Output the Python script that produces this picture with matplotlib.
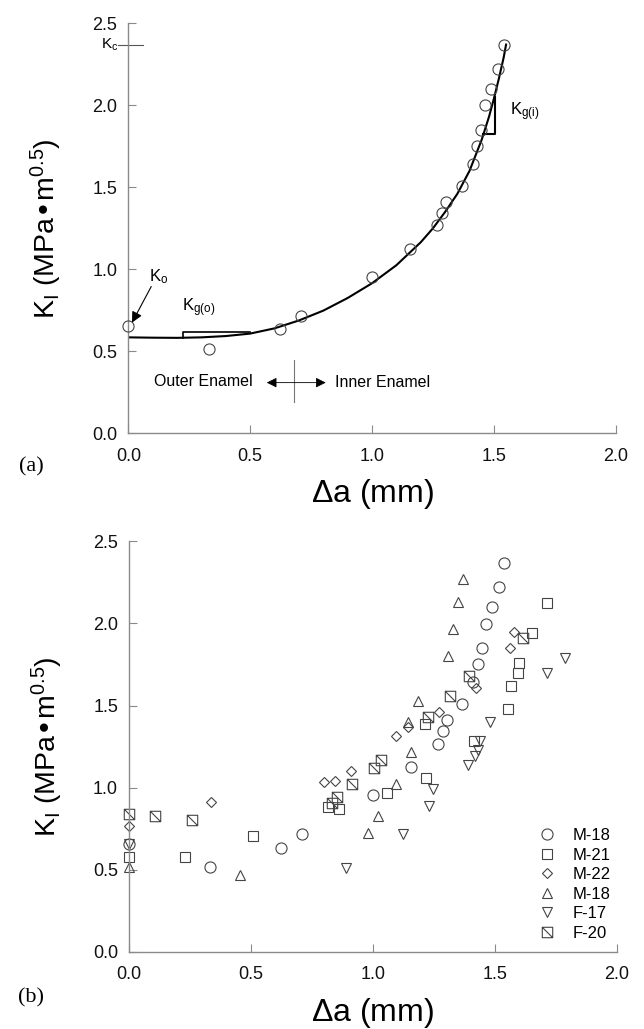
import numpy as np
import matplotlib
matplotlib.use('Agg')
from matplotlib import pyplot as plt
from matplotlib.path import Path

plt.rcParams['font.family'] = ['Liberation Sans', 'DejaVu Sans']
plt.rcParams['mathtext.default'] = 'regular'

# ---- data ----
# specimen M-18 (circles), also the data set of panel (a)
m18_x = [0.0, 0.332, 0.624, 0.708, 1.0, 1.155, 1.268, 1.286, 1.304, 1.368, 1.413,
         1.431, 1.449, 1.465, 1.488, 1.518, 1.540]
m18_y = [0.655, 0.514, 0.634, 0.715, 0.953, 1.125, 1.268, 1.343, 1.41, 1.51, 1.642,
         1.752, 1.85, 1.999, 2.098, 2.219, 2.366]

# fitted R-curve in panel (a)
fit_x = [0.0, 0.10, 0.20, 0.30, 0.40, 0.50, 0.60, 0.70, 0.80, 0.90, 1.00, 1.10,
         1.15, 1.20, 1.25, 1.30, 1.35, 1.40, 1.45, 1.48, 1.50, 1.52, 1.54, 1.55]
fit_y = [0.585, 0.583, 0.582, 0.585, 0.593, 0.608, 0.640, 0.688, 0.748, 0.825,
         0.915, 1.025, 1.095, 1.165, 1.25, 1.35, 1.46, 1.60, 1.79, 1.93, 2.04,
         2.16, 2.29, 2.37]

m21_x = [0.0, 0.23, 0.51, 0.815, 0.862, 1.06, 1.22, 1.215, 1.415, 1.555, 1.567,
         1.595, 1.60, 1.655, 1.715]
m21_y = [0.575, 0.58, 0.705, 0.88, 0.87, 0.966, 1.06, 1.385, 1.285, 1.48, 1.62,
         1.695, 1.758, 1.942, 2.125]

m22_x = [0.0, 0.337, 0.80, 0.843, 0.91, 1.094, 1.146, 1.273, 1.424, 1.564, 1.58]
m22_y = [0.765, 0.915, 1.035, 1.043, 1.104, 1.312, 1.369, 1.46, 1.609, 1.853, 1.948]

m18b_x = [0.0, 0.455, 0.982, 1.022, 1.096, 1.158, 1.143, 1.186, 1.308, 1.329,
          1.348, 1.37]
m18b_y = [0.517, 0.469, 0.724, 0.826, 1.024, 1.219, 1.40, 1.527, 1.80, 1.965,
          2.133, 2.27]

f17_x = [0.0, 0.89, 1.122, 1.23, 1.248, 1.39, 1.42, 1.432, 1.44, 1.48, 1.716, 1.788]
f17_y = [0.658, 0.511, 0.715, 0.885, 0.99, 1.137, 1.192, 1.226, 1.281, 1.398,
         1.70, 1.79]

f20_x = [0.0, 0.106, 0.257, 0.832, 0.852, 0.914, 1.006, 1.035, 1.228, 1.317,
         1.393, 1.617]
f20_y = [0.836, 0.824, 0.805, 0.909, 0.941, 1.023, 1.118, 1.171, 1.43, 1.556,
         1.68, 1.912]

series_labels = ['M-18', 'M-21', 'M-22', 'M-18', 'F-17', 'F-20']

Kc = 2.37

# square with a diagonal (F-20)
box_diag = Path([(-1, -1), (1, -1), (1, 1), (-1, 1), (-1, -1), (-1, 1), (1, -1)],
                [Path.MOVETO, Path.LINETO, Path.LINETO, Path.LINETO, Path.CLOSEPOLY,
                 Path.MOVETO, Path.LINETO])

spine_col = '#8a8a8a'
edge_col = '#444444'


def style_axes(ax):
    ax.set_xlim(0, 2.0)
    ax.set_ylim(0, 2.5)
    ax.set_xticks([0.0, 0.5, 1.0, 1.5, 2.0])
    ax.set_yticks([0.0, 0.5, 1.0, 1.5, 2.0, 2.5])
    ax.xaxis.set_major_formatter(matplotlib.ticker.FormatStrFormatter('%.1f'))
    ax.yaxis.set_major_formatter(matplotlib.ticker.FormatStrFormatter('%.1f'))
    for s in ['top', 'right']:
        ax.spines[s].set_visible(False)
    for s in ['left', 'bottom']:
        ax.spines[s].set_color(spine_col)
        ax.spines[s].set_linewidth(1.0)
    ax.tick_params(direction='in', length=6, width=0.8, color=spine_col,
                   labelsize=13, labelcolor='#111111')
    ax.tick_params(axis='x', pad=10.5)
    ax.tick_params(axis='y', pad=8)
    ax.set_xlabel(r'$\Delta$a (mm)', fontsize=23)
    ax.xaxis.set_label_coords(0.5, -0.107)
    ax.set_ylabel('$K_{I}$ (MPa\u2022m$^{0.5}$)', fontsize=20.5)
    ax.yaxis.set_label_coords(-0.132, 0.5)


fig = plt.figure(figsize=(6.44, 10.29), dpi=100, facecolor='w')
ax1 = fig.add_axes([0.1993, 0.5789, 0.7568, 0.3985])
ax2 = fig.add_axes([0.2005, 0.0751, 0.7568, 0.3988])

# ---- panel (a) ----
style_axes(ax1)
ax1.plot(fit_x, fit_y, color='black', lw=1.5, zorder=2)
ax1.plot(m18_x, m18_y, 'o', ms=8, mfc='none', mec=edge_col, mew=0.8, zorder=3,
         clip_on=False)

# K_c marker on the axis
ax1.plot([-0.042, 0.059], [Kc, Kc], color='#555555', lw=0.8, clip_on=False)
ax1.text(-0.075, Kc, '$K_{c}$', fontsize=11, ha='center', va='center')

# K_o arrow
ax1.annotate('', xy=(0.015, 0.675), xytext=(0.094, 0.895),
             arrowprops=dict(arrowstyle='-|>', color='black', lw=0.8,
                             mutation_scale=16, shrinkA=0, shrinkB=0))
ax1.text(0.085, 0.955, '$K_{o}$', fontsize=12, ha='left', va='center')

# slope K_g(o)
ax1.plot([0.223, 0.223, 0.50], [0.583, 0.617, 0.617], color='black', lw=1.2)
ax1.text(0.222, 0.765, '$K_{g(o)}$', fontsize=12, ha='left', va='center')

# slope K_g(i)
ax1.plot([1.457, 1.505, 1.505], [1.823, 1.823, 2.053], color='black', lw=1.5)
ax1.text(1.565, 1.96, '$K_{g(i)}$', fontsize=12, ha='left', va='center')

# outer / inner enamel marker
ax1.plot([0.681, 0.681], [0.193, 0.447], color='#777777', lw=0.8)
ax1.annotate('', xy=(0.568, 0.309), xytext=(0.81, 0.309),
             arrowprops=dict(arrowstyle='<|-|>', color='black', lw=0.6,
                             mutation_scale=15, shrinkA=0, shrinkB=0))
ax1.text(0.107, 0.318, 'Outer Enamel', fontsize=11.5, ha='left', va='center')
ax1.text(0.846, 0.31, 'Inner Enamel', fontsize=11.5, ha='left', va='center')

fig.text(0.048, 0.5465, '(a)', fontsize=16, family='Liberation Serif',
         ha='center', va='center')

# ---- panel (b) ----
style_axes(ax2)
kw = dict(ls='none', mfc='none', mec=edge_col, mew=0.8, clip_on=False)
ax2.plot(m18_x, m18_y, marker='o', ms=8, label=series_labels[0], **kw)
ax2.plot(m21_x, m21_y, marker='s', ms=7.5, label=series_labels[1], **kw)
ax2.plot(m22_x, m22_y, marker='D', ms=5.2, label=series_labels[2], **kw)
ax2.plot(m18b_x, m18b_y, marker='^', ms=7.2, label=series_labels[3], **kw)
ax2.plot(f17_x, f17_y, marker='v', ms=7.2, label=series_labels[4], **kw)
ax2.plot(f20_x, f20_y, marker=box_diag, ms=7.5, label=series_labels[5], **kw)

ax2.legend(loc='lower left', bbox_to_anchor=(0.826, 0.011), frameon=False,
           fontsize=12, handlelength=1.0, handletextpad=1.05, labelspacing=0.27,
           borderaxespad=0, borderpad=0.4, numpoints=1)

fig.text(0.048, 0.030, '(b)', fontsize=16, family='Liberation Serif',
         ha='center', va='center')

plt.savefig('out.png', dpi=100)
